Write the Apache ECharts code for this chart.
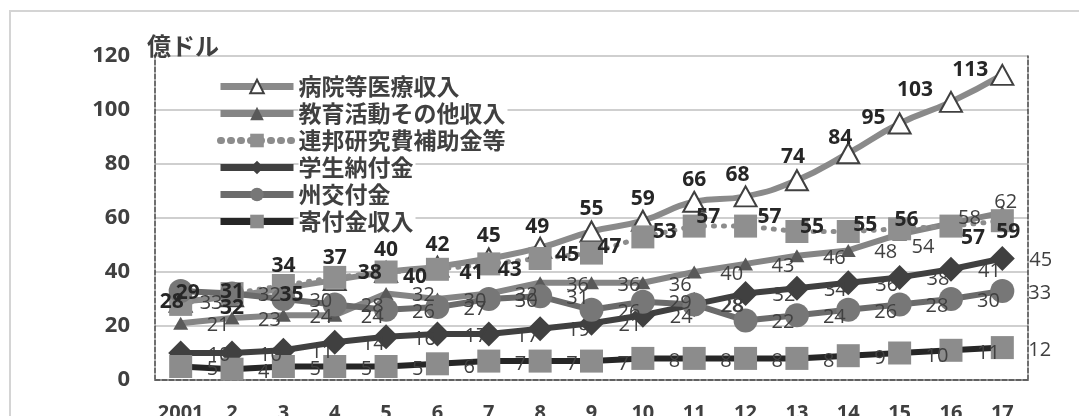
<!DOCTYPE html>
<html>
<head>
<meta charset="utf-8">
<script src="https://cdn.jsdelivr.net/npm/echarts@6/dist/echarts.min.js"></script>
<style>
  html, body { margin: 0; padding: 0; background: #fff; }
  #chart { width: 1079px; height: 416px; }
</style>
</head>
<body>
<div id="chart"></div>
<script>
// 年度（2001年度〜2017年度）
const years = ['2001', '2', '3', '4', '5', '6', '7', '8', '9', '10', '11', '12', '13', '14', '15', '16', '17'];

// 収入内訳（億ドル）
const hospital  = [29, 31, 34, 37, 40, 42, 45, 49, 55, 59, 66, 68, 74, 84, 95, 103, 113]; // 病院等医療収入
const education = [21, 23, 24, 24, 32, 30, 32, 36, 36, 36, 40, 43, 46, 48, 54, 58, 62];   // 教育活動その他収入
const federal   = [28, 32, 35, 38, 40, 41, 43, 45, 47, 53, 57, 57, 55, 55, 56, 57, 59];   // 連邦研究費補助金等
const tuition   = [10, 10, 11, 14, 16, 17, 17, 19, 21, 24, 28, 32, 34, 36, 38, 41, 45];   // 学生納付金
const stateAid  = [33, 32, 30, 28, 26, 27, 30, 31, 26, 29, 28, 22, 24, 26, 28, 30, 33];   // 州交付金
const gifts     = [5, 4, 5, 5, 5, 6, 7, 7, 7, 8, 8, 8, 8, 9, 10, 11, 12];                 // 寄付金収入

const seriesNames = ['病院等医療収入', '教育活動その他収入', '連邦研究費補助金等', '学生納付金', '州交付金', '寄付金収入'];

const yMin = 0, yMax = 120, yStep = 20;

const NUM_FONT = "'Open Sans', 'Noto Sans CJK JP', sans-serif";
const JP_FONT = "'Noto Sans CJK JP', sans-serif";

// ラベル位置の微調整（点ごとのずらし量, px）
const hospitalNudge = {
  0: [7, -9], 1: [0, -4], 7: [-3, -21], 11: [-8, -21], 12: [-4, -23],
  13: [-8, -15], 14: [-26, -5], 15: [-36, -12], 16: [-32, -5]
};
const federalNudge = {
  0: [-9, -2], 1: [0, 14], 2: [8, 10], 3: [35, -4], 4: [29, 5], 5: [34, 4],
  6: [21, 6], 7: [27, -3], 8: [18, -6], 9: [22, -5], 10: [14, -9], 11: [24, -9],
  12: [15, -4], 13: [17, -6], 14: [7, -9], 15: [22, 12], 16: [6, 11]
};
const educationNudge = { 14: [12, 13], 15: [7, -5], 16: [-8, -10] };
const stateNudge = { 0: [19, 12] };

function withNudges(values, nudges) {
  return values.map((v, i) => nudges[i] ? { value: v, label: { offset: nudges[i] } } : v);
}

const boldLabel = (offset) => ({
  show: true, position: 'inside', align: 'center', verticalAlign: 'middle',
  offset: offset, color: '#262626', fontFamily: NUM_FONT, fontWeight: 'bold', fontSize: 21
});
const plainLabel = (offset) => ({
  show: true, position: 'inside', align: 'left', verticalAlign: 'middle',
  offset: offset, color: '#404040', fontFamily: NUM_FONT, fontWeight: 'normal', fontSize: 20
});

// 凡例の線は系列の線と同じ太さで描く
const legendLine = { width: 7 };

const chart = echarts.init(document.getElementById('chart'), null, { renderer: 'canvas' });

chart.setOption({
  animation: false,
  backgroundColor: '#fff',
  title: {
    text: '億ドル', left: 142, top: 26,
    textStyle: { fontFamily: JP_FONT, fontWeight: 'bold', fontSize: 24, color: '#404040', lineHeight: 30 }
  },
  graphic: [{
    type: 'rect', silent: true, z: -10,
    shape: { x: 10, y: 11, width: 1200, height: 600 },
    style: { fill: 'none', stroke: '#d4d4d4', lineWidth: 2 }
  }],
  legend: {
    orient: 'vertical', left: 212, top: 70,
    itemWidth: 73, itemHeight: 17, itemGap: 4,
    data: seriesNames.map(n => ({ name: n, lineStyle: legendLine })),
    textStyle: {
      fontFamily: JP_FONT, fontWeight: 'bold', fontSize: 23, lineHeight: 23,
      color: '#404040', backgroundColor: '#fff', padding: [0, 2, 0, 0]
    }
  },
  grid: { left: 155, right: 51, top: 56, bottom: 36, containLabel: false, outerBoundsMode: 'none' },
  xAxis: [{
    type: 'category', data: years, boundaryGap: true,
    axisLine: { lineStyle: { color: '#c4c4c4', width: 2 } },
    axisTick: { show: false },
    axisLabel: { interval: 0, margin: 23, color: '#404040', fontFamily: NUM_FONT, fontWeight: 'bold', fontSize: 20, verticalAlign: 'top' }
  }, {
    type: 'category', data: years, position: 'top', boundaryGap: true,
    axisLine: { lineStyle: { color: '#404040', width: 1.5, type: [5, 2] } },
    axisTick: { show: false }, axisLabel: { show: false }, splitLine: { show: false }
  }],
  yAxis: [{
    type: 'value', min: yMin, max: yMax, interval: yStep,
    axisLine: { show: true, lineStyle: { color: '#404040', width: 1.5, type: [5, 2] } },
    axisTick: { show: false },
    splitLine: { lineStyle: { color: '#cfcfcf', width: 2 } },
    axisLabel: { margin: 25, color: '#404040', fontFamily: NUM_FONT, fontWeight: 'bold', fontSize: 22 }
  }, {
    type: 'value', min: yMin, max: yMax, interval: yStep, position: 'right',
    axisLine: { show: true, lineStyle: { color: '#404040', width: 1.5, type: [5, 2] } },
    axisTick: { show: false }, axisLabel: { show: false }, splitLine: { show: false }
  }],
  series: [
    {
      name: seriesNames[0], type: 'line', smooth: 0.5, showAllSymbol: true,
      data: withNudges(hospital, hospitalNudge),
      lineStyle: { color: '#8a8a8a', width: 6 },
      symbol: 'triangle', symbolSize: [22, 20],
      itemStyle: { color: '#ffffff', borderColor: '#404040', borderWidth: 2 },
      label: boldLabel([0, -22])
    },
    {
      name: seriesNames[1], type: 'line', showAllSymbol: true,
      data: withNudges(education, educationNudge),
      lineStyle: { color: '#858585', width: 6 },
      symbol: 'triangle', symbolSize: [15, 13],
      itemStyle: { color: '#595959' },
      label: plainLabel([26, 2])
    },
    {
      name: seriesNames[2], type: 'line', showAllSymbol: true,
      data: withNudges(federal, federalNudge),
      lineStyle: { color: '#8c8c8c', width: 5, type: [1, 9], cap: 'round' },
      symbol: 'rect', symbolSize: 23,
      itemStyle: { color: '#8f8f8f' },
      label: boldLabel([22, -3])
    },
    {
      name: seriesNames[3], type: 'line', showAllSymbol: true,
      data: tuition,
      lineStyle: { color: '#404040', width: 6 },
      symbol: 'diamond', symbolSize: 25,
      itemStyle: { color: '#404040' },
      label: plainLabel([27, 2])
    },
    {
      name: seriesNames[4], type: 'line', showAllSymbol: true,
      data: withNudges(stateAid, stateNudge),
      lineStyle: { color: '#6b6b6b', width: 6 },
      symbol: 'circle', symbolSize: 24,
      itemStyle: { color: '#777777' },
      label: plainLabel([26, 2])
    },
    {
      name: seriesNames[5], type: 'line', showAllSymbol: true,
      data: gifts,
      lineStyle: { color: '#262626', width: 6 },
      symbol: 'rect', symbolSize: 23,
      itemStyle: { color: '#8c8c8c' },
      label: plainLabel([26, 3])
    }
  ]
});
</script>
</body>
</html>
